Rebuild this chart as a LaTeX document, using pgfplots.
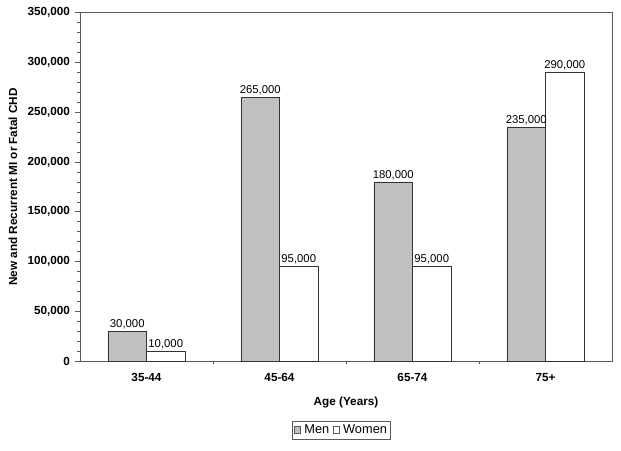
\documentclass[border=0pt]{standalone}
\usepackage{fontspec}
\setmainfont{Liberation Sans}
\usepackage{pgfplots}
\pgfplotsset{compat=1.18}
\definecolor{barg}{RGB}{192,192,192}
\definecolor{framec}{RGB}{90,90,90}
\begin{document}
\begin{tikzpicture}[x=1pt,y=1pt]
\useasboundingbox (0,0) rectangle (465.75,337.5);
\begin{axis}[
  at={(60pt,66.75pt)}, anchor=south west,
  scale only axis, width=399pt, height=261.2pt,
  xmin=-0.5, xmax=3.5, ymin=0, ymax=350000,
  ybar=0pt, bar width=28.9pt,
  xtick={0,1,2,3},
  xticklabels={35-44,45-64,65-74,75+},
  major x tick style={draw=none},
  minor xtick={0.5,1.5,2.5},
  minor x tick style={framec},
  ytick={0,50000,...,350000},
  minor y tick num=4,
  tick align=outside,
  major tick length=4pt,
  minor tick length=2pt,
  xtick pos=bottom, ytick pos=left,
  axis line style={framec},
  every tick/.style={framec},
  scaled y ticks=false,
  /pgf/number format/.cd, fixed, precision=0, 1000 sep={,}, assume math mode=true,
  /pgfplots/.cd,
  y tick label style={font=\fontsize{8.8}{10}\selectfont\bfseries},
  x tick label style={font=\fontsize{8.8}{10}\selectfont\bfseries, yshift=-2pt},
  xlabel={Age (Years)},
  xlabel style={at={(rel axis cs:0.5,-0.12)}, anchor=center, font=\fontsize{8.8}{10}\selectfont\bfseries},
  ylabel={New and Recurrent MI or Fatal CHD},
  ylabel style={at={(rel axis cs:-0.126,0.5)}, anchor=center, rotate=0, font=\fontsize{8.8}{10}\selectfont\bfseries},
  nodes near coords,
  nodes near coords style={font=\fontsize{8.5}{10}\selectfont, inner sep=1.5pt},
  legend columns=-1,
  legend style={at={(rel axis cs:0.492,-0.198)}, anchor=center, draw=framec, font=\fontsize{9.6}{11}\selectfont, inner sep=0.8pt, column sep=0.5pt},
  legend image code/.code={\draw[#1, draw=framec] (0pt,-2.5pt) rectangle (5pt,2.5pt);},
]
\addplot[fill=barg, draw=black!80] coordinates {(0,30000) (1,265000) (2,180000) (3,235000)};
\addplot[fill=white, draw=black!80] coordinates {(0,10000) (1,95000) (2,95000) (3,290000)};
\legend{Men,Women}
\end{axis}
\end{tikzpicture}
\end{document}
